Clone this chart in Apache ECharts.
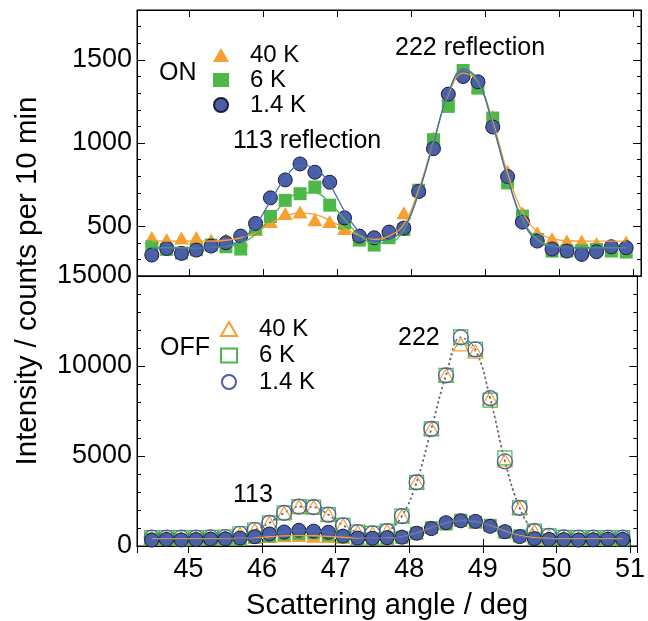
<!DOCTYPE html>
<html>
<head>
<meta charset="utf-8">
<script src="https://cdn.jsdelivr.net/npm/echarts@6/dist/echarts.min.js"></script>
<style>
    html, body { margin: 0; padding: 0; background: #fff; }
    #chart { width: 648px; height: 621px; }
</style>
</head>
<body>
<div id="chart"></div>
<script>
// scattering angle, deg
var angles = [44.5, 44.7, 44.9, 45.1, 45.3, 45.5, 45.7, 45.9, 46.1, 46.3, 46.5,
    46.7, 46.9, 47.1, 47.3, 47.5, 47.7, 47.9, 48.1, 48.3, 48.5, 48.7,
    48.9, 49.1, 49.3, 49.5, 49.7, 49.9, 50.1, 50.3, 50.5, 50.7, 50.9];

// field ON, measured counts
var on40 = [432, 420, 428, 432, 416, 420, 415, 480, 528, 576, 585, 538, 528, 485, 450,
    436, 450, 580, 720, 1030, 1290, 1430, 1340, 1160, 830, 580, 460, 424, 410, 410, 395, 385, 404];
var on6 = [376, 360, 338, 358, 386, 376, 362, 486, 558, 655, 695, 735, 626, 518, 416,
    386, 430, 480, 716, 1020, 1220, 1436, 1330, 1150, 760, 560, 420, 350, 350, 352, 360, 350, 344];
var on14 = [326, 366, 336, 356, 380, 400, 440, 516, 670, 778, 874, 824, 764, 550, 440,
    430, 464, 488, 708, 966, 1294, 1400, 1368, 1096, 798, 524, 410, 362, 350, 330, 346, 376, 370];

// field ON, fitted curves
var fit40 = [410, 410, 410, 410, 410, 415, 430, 460, 515, 560, 580, 570, 535, 485, 445,
    420, 440, 510, 720, 1010, 1290, 1420, 1370, 1130, 820, 585, 465, 425, 412, 410, 410, 410, 410];
var fit6 = [370, 370, 370, 370, 372, 378, 395, 450, 550, 645, 700, 700, 640, 540, 445,
    398, 400, 475, 700, 1000, 1300, 1440, 1370, 1110, 790, 540, 420, 380, 372, 370, 370, 370, 370];
var fit14 = [368, 368, 368, 370, 372, 380, 415, 505, 650, 790, 865, 850, 750, 590, 465,
    412, 420, 488, 700, 1000, 1300, 1445, 1380, 1110, 790, 530, 410, 376, 370, 368, 368, 368, 368];

// field OFF, measured counts
var off40 = [470, 470, 460, 470, 480, 500, 680, 890, 1290, 1840, 2190, 2160, 1740, 1150, 770,
    700, 830, 1660, 3540, 6510, 9480, 11200, 10800, 8210, 4750, 2120, 830, 560, 480, 460, 470, 460, 470];
var off6 = [470, 470, 460, 470, 480, 500, 680, 890, 1290, 1840, 2190, 2160, 1740, 1150, 770,
    700, 830, 1660, 3540, 6510, 9480, 11620, 10920, 8100, 4900, 2120, 830, 560, 480, 460, 470, 460, 470];
var off14 = [470, 470, 460, 470, 480, 500, 680, 890, 1290, 1840, 2190, 2160, 1740, 1150, 770,
    700, 830, 1660, 3540, 6510, 9480, 11590, 10920, 8210, 4700, 2120, 830, 560, 480, 460, 470, 460, 470];

var topTicks = [500, 1000, 1500];
var bottomTicks = [0, 5000, 10000, 15000];
var xTicks = [45, 46, 47, 48, 49, 50, 51];

(function (win) {
    var FONT = '"Liberation Sans", Arial, Helvetica, sans-serif',
        ORANGE = '#f7a030',
        GREEN = '#4cb848',
        BLUE = '#4b5ea8',
        chart = echarts.init(document.getElementById('chart'), null, { renderer: 'canvas' });

    function pts(ys) {
        var out = [];
        for (var i = 0; i < angles.length; i++) {
            out.push([angles[i], ys[i]]);
        }
        return out;
    }

    function near(v, list) {
        for (var i = 0; i < list.length; i++) {
            if (Math.abs(v - list[i]) < 1e-6) return true;
        }
        return false;
    }

    function xAxis(grid, pos, labels) {
        return {
            type: 'value', gridIndex: grid, position: pos,
            min: 44.3, max: 51.1, splitNumber: 7,
            axisLine: { lineStyle: { color: '#000', width: 1 } },
            axisTick: { inside: true, length: 7, lineStyle: { color: '#000' } },
            axisLabel: {
                show: labels, color: '#000', fontSize: 27, fontFamily: FONT, margin: 10,
                formatter: function (v) { return near(v, xTicks) ? String(Math.round(v)) : ''; }
            },
            splitLine: { show: false }
        };
    }

    // top panel: majors from nice ticks, minors on a separate axis
    function yTopMajor(pos) {
        return {
            type: 'value', gridIndex: 0, position: pos,
            min: 200, max: 1800, splitNumber: 3,
            axisLine: { show: true, lineStyle: { color: '#000' } },
            axisTick: { inside: true, length: 8, lineStyle: { color: '#000' } },
            axisLabel: {
                show: pos === 'left', color: '#000', fontSize: 27, fontFamily: FONT, margin: 5,
                formatter: function (v) { return near(v, topTicks) ? String(Math.round(v)) : ''; }
            },
            splitLine: { show: false }
        };
    }
    function yTopMinor(pos) {
        return {
            type: 'value', gridIndex: 0, position: pos,
            min: 200, max: 1800, interval: 100,
            axisLine: { show: false },
            axisTick: { inside: true, length: 4, lineStyle: { color: '#000' } },
            axisLabel: { show: false },
            splitLine: { show: false }
        };
    }
    function yBottom(pos) {
        return {
            type: 'value', gridIndex: 1, position: pos,
            min: 0, max: 15000, interval: 5000,
            axisLine: { show: true, lineStyle: { color: '#000' } },
            axisTick: { inside: true, length: 8, lineStyle: { color: '#000' } },
            minorTick: { show: true, splitNumber: 5, length: 4, lineStyle: { color: '#000' } },
            axisLabel: {
                show: pos === 'left', color: '#000', fontSize: 27, fontFamily: FONT, margin: 5,
                formatter: function (v) { return near(v, bottomTicks) ? String(Math.round(v)) : ''; }
            },
            splitLine: { show: false }
        };
    }

    function filled(name, sym, size, color, xi, yi, border) {
        return {
            name: name, type: 'scatter', xAxisIndex: xi, yAxisIndex: yi,
            symbol: sym, symbolSize: size, data: pts(name === '40 K' ? on40 : name === '6 K' ? on6 : on14),
            itemStyle: { color: color, borderColor: border || color, borderWidth: border ? 1 : 0, opacity: 1 },
            emphasis: { disabled: true }, z: 3
        };
    }
    function fit(ys, color, xi, yi) {
        return {
            type: 'line', xAxisIndex: xi, yAxisIndex: yi, data: pts(ys),
            smooth: 0.4, showSymbol: false, silent: true,
            lineStyle: { color: color, width: 1.3 }, z: 4
        };
    }
    function open(name, ys, sym, size, color) {
        return {
            name: name, type: 'scatter', xAxisIndex: 2, yAxisIndex: 4,
            symbol: sym, symbolSize: size, data: pts(ys),
            itemStyle: { color: 'rgba(255,255,255,0)', borderColor: color, borderWidth: 1.2, opacity: 1 },
            emphasis: { disabled: true }, z: 2
        };
    }
    function dotted(ys, color) {
        return {
            type: 'line', xAxisIndex: 2, yAxisIndex: 4, data: pts(ys),
            smooth: 0.4, showSymbol: false, silent: true,
            lineStyle: { color: color, width: 1.6, type: [2, 3] }, z: 2
        };
    }
    function txt(x, y, s, align) {
        return {
            type: 'text', x: x, y: y, silent: true,
            style: { text: s, fill: '#000', font: '25px ' + FONT, textAlign: align || 'left', textVerticalAlign: 'middle' }
        };
    }

    var legendText = { color: '#000', fontSize: 24, fontFamily: FONT, lineHeight: 22 };

    chart.setOption({
        backgroundColor: '#fff',
        animation: false,
        grid: [
            { left: 137, top: 10, width: 504, height: 266, show: true, borderColor: '#000', borderWidth: 1 },
            { left: 137, top: 276, width: 504, height: 272, show: true, borderColor: '#000', borderWidth: 1 }
        ],
        xAxis: [
            xAxis(0, 'bottom', false),
            xAxis(0, 'top', false),
            Object.assign(xAxis(1, 'bottom', true), {
                name: 'Scattering angle / deg', nameLocation: 'middle', nameGap: 45,
                nameTextStyle: { color: '#000', fontSize: 29, fontFamily: FONT }
            }),
            xAxis(1, 'top', false)
        ],
        yAxis: [
            yTopMajor('left'), yTopMinor('left'), yTopMajor('right'), yTopMinor('right'),
            yBottom('left'), yBottom('right')
        ],
        legend: [
            {
                data: ['40 K', '6 K', '1.4 K'], orient: 'vertical', left: 213, top: 43, padding: 0,
                itemWidth: 16, itemHeight: 14, itemGap: 1, selectedMode: false,
                textStyle: Object.assign({ padding: [0, 0, 0, 16] }, legendText)
            },
            {
                data: ['40 K OFF', '6 K OFF', '1.4 K OFF'], orient: 'vertical', left: 220, top: 317, padding: 0,
                itemWidth: 16, itemHeight: 14, itemGap: 2.5, selectedMode: false,
                formatter: function (n) { return n.replace(' OFF', ''); },
                textStyle: Object.assign({ padding: [0, 0, 0, 17] }, legendText)
            }
        ],
        graphic: [
            txt(159, 73, 'ON'),
            txt(395, 48, '222 reflection'),
            txt(233, 141, '113 reflection'),
            txt(160, 348, 'OFF'),
            txt(398, 338, '222'),
            txt(233, 495, '113'),
            {
                type: 'text', x: 28, y: 281, rotation: Math.PI / 2, silent: true,
                style: {
                    text: 'Intensity / counts per 10 min', fill: '#000', font: '29.5px ' + FONT,
                    textAlign: 'center', textVerticalAlign: 'middle'
                }
            }
        ],
        series: [
            // ON panel
            filled('40 K', 'triangle', [15, 13], ORANGE, 0, 0),
            fit(fit40, ORANGE, 0, 0),
            filled('6 K', 'rect', 13, GREEN, 0, 0),
            fit(fit6, GREEN, 0, 0),
            filled('1.4 K', 'circle', 14, BLUE, 0, 0, '#1c1c3a'),
            fit(fit14, '#4a6cb4', 0, 0),
            // OFF panel
            open('40 K OFF', off40, 'triangle', [15, 13], ORANGE),
            open('6 K OFF', off6, 'rect', 14, GREEN),
            open('1.4 K OFF', off14, 'circle', 15, BLUE),
            dotted(off40, ORANGE),
            dotted(off14, BLUE),
            filled('40 K', 'triangle', [15, 13], ORANGE, 2, 4),
            fit(fit40, ORANGE, 2, 4),
            filled('6 K', 'rect', 13, GREEN, 2, 4),
            filled('1.4 K', 'circle', 14, BLUE, 2, 4, '#1c1c3a'),
            fit(fit14, '#4a6cb4', 2, 4)
        ]
    });
})(this);
</script>
</body>
</html>
